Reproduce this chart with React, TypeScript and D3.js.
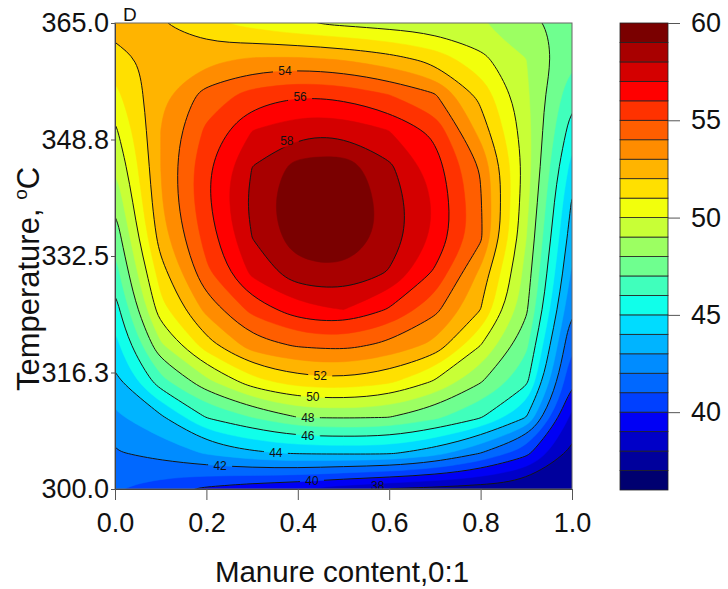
import React, { useEffect, useRef } from "react";
import * as d3 from "d3";

// grid of the response surface: manure content (columns) x temperature (rows, top to bottom)
const manure = [0, 0.1, 0.2, 0.3, 0.4, 0.5, 0.6, 0.7, 0.8, 0.9, 1.0];
const temps = [365, 360, 355, 350, 345, 340, 335, 330, 325, 320, 315, 310, 305, 300];

// values, one array per temperature row
const t365 = [52.5, 52.0, 51.2, 50.6, 50.05, 49.75, 49.5, 49.3, 49.05, 48.3, 47.6];
const t360 = [51.6, 52.4, 52.7, 53.1, 53.15, 52.9, 52.4, 51.6, 50.3, 49.0, 47.2];
const t355 = [50.7, 52.8, 54.4, 55.4, 55.9, 55.7, 55.0, 54.1, 51.7, 49.2, 46.3];
const t350 = [49.8, 53.0, 55.2, 57.0, 57.7, 57.7, 57.0, 55.7, 52.6, 49.4, 45.5];
const t345 = [49.0, 53.0, 55.8, 58.0, 59.4, 59.6, 58.2, 56.5, 53.9, 49.5, 44.6];
const t340 = [48.15, 52.9, 55.8, 58.3, 59.8, 59.9, 58.6, 56.9, 54.1, 49.3, 43.9];
const t335 = [47.3, 52.5, 55.4, 58.0, 59.6, 59.8, 58.6, 56.8, 54.2, 49.0, 43.4];
const t330 = [46.5, 51.5, 54.75, 57.2, 58.6, 58.8, 57.9, 55.8, 52.7, 48.6, 42.8];
const t325 = [45.5, 50.6, 53.3, 55.3, 56.6, 57.0, 55.9, 54.3, 52.0, 48.2, 42.0];
const t320 = [44.6, 48.8, 51.5, 53.5, 54.1, 54.3, 53.7, 52.7, 50.0, 47.2, 41.0];
const t315 = [43.7, 46.6, 48.7, 50.6, 51.5, 51.7, 51.2, 49.9, 48.1, 46.3, 40.0];
const t310 = [42.8, 43.8, 46.05, 47.0, 48.0, 48.1, 48.0, 47.2, 46.1, 44.0, 38.7];
const t305 = [41.9, 42.4, 43.1, 43.8, 44.1, 44.15, 44.15, 43.4, 42.0, 40.3, 37.7];
const t300 = [41.0, 40.4, 39.8, 39.3, 39.0, 38.4, 37.95, 37.7, 37.5, 37.3, 37.1];
const rows = [t365, t360, t355, t350, t345, t340, t335, t330, t325, t320, t315, t310, t305, t300];

// filled bands (one per unit) and labelled lines (every 2 units)
const bandLevels = [36, 37, 38, 39, 40, 41, 42, 43, 44, 45, 46, 47, 48, 49, 50, 51, 52, 53, 54, 55, 56, 57, 58, 59];
const bandColors = [
  "#000070", "#00009c", "#0000c8", "#0000f5", "#0040ff", "#0068ff", "#008cff", "#00b4ff",
  "#00dcff", "#10ffea", "#40ffbc", "#6fff8f", "#9cff62", "#c8ff36", "#f2ff0c", "#ffe000",
  "#ffb400", "#ff8c00", "#ff5e00", "#ff3200", "#ff0000", "#d40000", "#a80000", "#7a0000",
];
const lineLevels = [38, 40, 42, 44, 46, 48, 50, 52, 54, 56, 58];

// where the contour labels sit
const labelLevels = [54, 56, 58, 52, 50, 48, 46, 44, 42, 40, 38];
const labelManure = [0.372, 0.405, 0.376, 0.449, 0.433, 0.422, 0.422, 0.352, 0.23, 0.431, 0.575];
const labelTemps = [358.7, 354.5, 349.2, 315.3, 312.6, 309.9, 307.4, 305.2, 303.1, 301.4, 300.4];

const tempTicks = [300, 316.25, 332.5, 348.75, 365];
const manureTicks = [0, 0.2, 0.4, 0.6, 0.8, 1.0];
const barTicks = [40, 45, 50, 55, 60];

const FONT = "'Liberation Sans', Arial, sans-serif";

function valueAt(u: number, t: number) {
  const nx = manure.length, ny = temps.length;
  let c = (u - manure[0]) / (manure[1] - manure[0]);
  let r = (temps[0] - t) / (temps[0] - temps[1]);
  c = Math.max(0, Math.min(nx - 1, c));
  r = Math.max(0, Math.min(ny - 1, r));
  const c0 = Math.min(nx - 2, Math.floor(c)), r0 = Math.min(ny - 2, Math.floor(r));
  const fc = c - c0, fr = r - r0;
  const a = rows[r0][c0] * (1 - fc) + rows[r0][c0 + 1] * fc;
  const b = rows[r0 + 1][c0] * (1 - fc) + rows[r0 + 1][c0 + 1] * fc;
  return a * (1 - fr) + b * fr;
}

// move a label onto its line, searching up and down from the hint
function snapTemp(level: number, u: number, hint: number) {
  let best = hint, bestD = Infinity;
  for (let t = hint - 3; t < hint + 3; t += 0.02) {
    const v0 = valueAt(u, t) - level, v1 = valueAt(u, t + 0.02) - level;
    if (v0 === 0 || v0 * v1 < 0) {
      const tt = t + 0.02 * (v0 / (v0 - v1 || 1));
      if (Math.abs(tt - hint) < bestD) { bestD = Math.abs(tt - hint); best = tt; }
    }
  }
  return best;
}

export default function App() {
  const ref = useRef<SVGSVGElement>(null);

  useEffect(() => {
    const svg = d3.select(ref.current);
    svg.selectAll("*").remove();

    const x = d3.scaleLinear().domain([0, 1]).range([115, 572]);
    const y = d3.scaleLinear().domain([300, 365]).range([489, 23]);
    const bar = d3.scaleLinear().domain([36, 60]).range([490, 23]);

    const nx = manure.length, ny = temps.length;
    const gx = d3.scaleLinear().domain([0.5, nx - 0.5]).range([manure[0], manure[nx - 1]]);
    const gy = d3.scaleLinear().domain([0.5, ny - 0.5]).range([temps[0], temps[ny - 1]]);

    const contours = d3.contours().size([nx, ny]).thresholds(bandLevels)(rows.flat());

    const ring = d3
      .line<[number, number]>()
      .x((p) => x(gx(p[0])))
      .y((p) => y(gy(p[1])))
      .curve(d3.curveBasisClosed);

    const toPath = (mp: any) =>
      mp.coordinates
        .map((poly: any) =>
          poly
            .map((r: [number, number][]) => {
              const pts = r.slice();
              const f = pts[0], l = pts[pts.length - 1];
              if (pts.length > 1 && f[0] === l[0] && f[1] === l[1]) pts.pop();
              return ring(pts);
            })
            .join("")
        )
        .join("");

    const labels = labelLevels.map((lv, i) => {
      const t = snapTemp(lv, labelManure[i], labelTemps[i]);
      return { lv, px: x(labelManure[i]), py: y(t) };
    });

    const defs = svg.append("defs");
    defs
      .append("clipPath")
      .attr("id", "plot-clip")
      .append("rect")
      .attr("x", 115)
      .attr("y", 23)
      .attr("width", 457)
      .attr("height", 466);

    const mask = defs
      .append("mask")
      .attr("id", "label-gaps")
      .attr("maskUnits", "userSpaceOnUse")
      .attr("x", 0)
      .attr("y", 0)
      .attr("width", 728)
      .attr("height", 589);
    mask.append("rect").attr("width", 728).attr("height", 589).attr("fill", "white");
    mask
      .selectAll("rect.gap")
      .data(labels)
      .join("rect")
      .attr("class", "gap")
      .attr("x", (d) => d.px - 12)
      .attr("y", (d) => d.py - 6)
      .attr("width", 24)
      .attr("height", 12)
      .attr("fill", "black");

    // panel letter
    svg
      .append("text")
      .attr("x", 123)
      .attr("y", 21)
      .attr("font-family", FONT)
      .attr("font-size", 19)
      .attr("fill", "#111")
      .text("D");

    const plot = svg.append("g").attr("clip-path", "url(#plot-clip)");

    // filled bands
    plot
      .append("g")
      .selectAll("path")
      .data(contours)
      .join("path")
      .attr("d", (d) => toPath(d))
      .attr("fill", (_, i) => bandColors[i])
      .attr("fill-rule", "evenodd")
      .attr("stroke", (_, i) => bandColors[i])
      .attr("stroke-width", 0.5);

    // contour lines
    plot
      .append("g")
      .attr("mask", "url(#label-gaps)")
      .selectAll("path")
      .data(contours.filter((c) => lineLevels.includes(c.value)))
      .join("path")
      .attr("d", (d) => toPath(d))
      .attr("fill", "none")
      .attr("stroke", "#151515")
      .attr("stroke-width", 1);

    // contour labels
    plot
      .append("g")
      .selectAll("text")
      .data(labels)
      .join("text")
      .attr("x", (d) => d.px)
      .attr("y", (d) => d.py)
      .attr("text-anchor", "middle")
      .attr("dominant-baseline", "central")
      .attr("font-family", FONT)
      .attr("font-size", 12)
      .attr("fill", "#111")
      .text((d) => d.lv);

    // frame
    svg
      .append("rect")
      .attr("x", 115)
      .attr("y", 23)
      .attr("width", 457)
      .attr("height", 466)
      .attr("fill", "none")
      .attr("stroke", "#666")
      .attr("stroke-width", 1);

    const styleAxis = (g: any) => {
      g.attr("font-family", FONT).attr("font-size", 27);
      g.selectAll("path").attr("stroke", "#444");
      g.selectAll("line").attr("stroke", "#555");
      g.selectAll("text").attr("fill", "#111");
    };

    svg
      .append("g")
      .attr("transform", "translate(115,0)")
      .call(
        d3
          .axisLeft(y)
          .tickValues(tempTicks)
          .tickFormat(d3.format(".1f"))
          .tickSize(4)
          .tickPadding(2)
          .tickSizeOuter(0)
      )
      .call(styleAxis);

    svg
      .append("g")
      .attr("transform", "translate(0,489)")
      .call(
        d3
          .axisBottom(x)
          .tickValues(manureTicks)
          .tickFormat(d3.format(".1f"))
          .tickSize(11)
          .tickPadding(13)
          .tickSizeOuter(0)
      )
      .call(styleAxis);

    // colour bar
    svg
      .append("g")
      .selectAll("rect")
      .data(bandLevels)
      .join("rect")
      .attr("x", 620)
      .attr("width", 48)
      .attr("y", (d) => bar(d + 1))
      .attr("height", (d) => bar(d) - bar(d + 1))
      .attr("fill", (_, i) => bandColors[i])
      .attr("stroke", "#222")
      .attr("stroke-width", 0.8);

    const barAxis = svg
      .append("g")
      .attr("transform", "translate(668,0)")
      .call(d3.axisRight(bar).tickValues(barTicks).tickSize(12).tickPadding(11).tickSizeOuter(0))
      .call(styleAxis);
    barAxis.select(".domain").remove();

    // axis titles
    svg
      .append("text")
      .attr("x", 342)
      .attr("y", 582)
      .attr("text-anchor", "middle")
      .attr("font-family", FONT)
      .attr("font-size", 29.5)
      .attr("fill", "#111")
      .text("Manure content,0:1");

    const yt = svg
      .append("text")
      .attr("transform", "translate(39,279) rotate(-90)")
      .attr("text-anchor", "middle")
      .attr("font-family", FONT)
      .attr("font-size", 31)
      .attr("fill", "#111");
    yt.append("tspan").text("Temperature, ");
    yt.append("tspan").attr("font-size", 19).attr("dy", -12).text("o");
    yt.append("tspan").attr("dy", 12).text("C");
  }, []);

  return (
    <svg
      ref={ref}
      width={728}
      height={589}
      style={{ position: "absolute", left: 0, top: 0, background: "#fff" }}
    />
  );
}
